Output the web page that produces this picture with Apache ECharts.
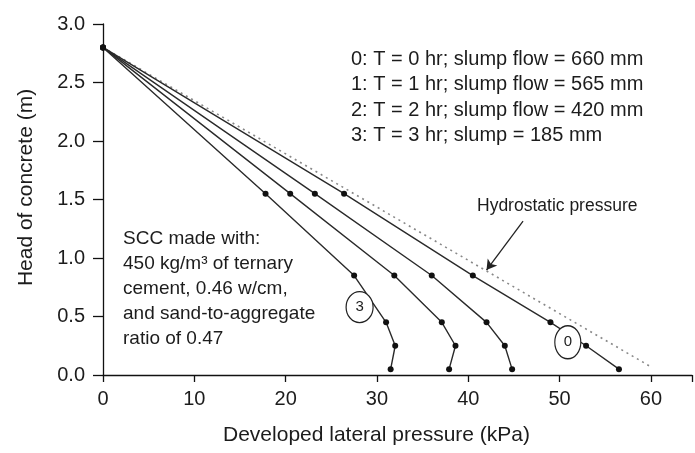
<!DOCTYPE html>
<html>
<head>
<meta charset="utf-8">
<script src="https://cdn.jsdelivr.net/npm/echarts@6/dist/echarts.min.js"></script>
<style>
  html, body { margin: 0; padding: 0; background: #fff; }
  #chart { width: 695px; height: 453px; }
</style>
</head>
<body>
<div id="chart"></div>
<script>
// Developed lateral pressure (kPa) vs. head of concrete (m), one curve per elapsed time
const heads = [2.8, 1.55, 0.85, 0.45, 0.25, 0.05];
const pressure0 = [0, 26.4, 40.5, 49.0, 52.9, 56.5];   // T = 0 hr
const pressure1 = [0, 23.2, 36.0, 42.0, 44.0, 44.8];   // T = 1 hr
const pressure2 = [0, 20.5, 31.9, 37.1, 38.6, 37.9];   // T = 2 hr
const pressure3 = [0, 17.8, 27.5, 31.0, 32.0, 31.5];   // T = 3 hr

// Hydrostatic pressure line (end points)
const hydroPressure = [0, 60];
const hydroHead = [2.8, 0.07];

const legendLines = [
  '0: T = 0 hr; slump flow = 660 mm',
  '1: T = 1 hr; slump flow = 565 mm',
  '2: T = 2 hr; slump flow = 420 mm',
  '3: T = 3 hr; slump = 185 mm'
];
const mixLines = [
  'SCC made with:',
  '450 kg/m³ of ternary',
  'cement, 0.46 w/cm,',
  'and sand-to-aggregate',
  'ratio of 0.47'
];

const FONT = '"Liberation Sans", Arial, Helvetica, sans-serif';
const INK = '#1c1c1c';

function pairs(xs, ys) { return xs.map((x, i) => [x, ys[i]]); }

const ellipse = 'path://M0,50 A50,50 0 1,0 100,50 A50,50 0 1,0 0,50 Z';

function curve(name, xs, tag, tagCoord) {
  const s = {
    name: name,
    type: 'line',
    data: pairs(xs, heads),
    symbol: 'circle',
    symbolSize: 6,
    showSymbol: true,
    itemStyle: { color: '#111' },
    lineStyle: { color: '#2a2a2a', width: 1.4 },
    z: 3,
    animation: false
  };
  if (tag !== undefined) {
    s.markPoint = {
      symbol: ellipse,
      symbolSize: tag === '0' ? [26, 33] : [27, 31],
      itemStyle: { color: '#fff', borderColor: '#222', borderWidth: 1.3 },
      label: { show: true, position: 'inside', formatter: tag, color: INK, fontSize: 15, fontFamily: FONT },
      data: [{ coord: tagCoord }],
      z: 5,
      animation: false
    };
  }
  return s;
}

const chart = echarts.init(document.getElementById('chart'), null, { renderer: 'canvas' });

const graphics = [];
legendLines.forEach((t, i) => {
  graphics.push({
    type: 'text', left: 351, top: 49 + i * 25.5,
    style: { text: t, font: '20px ' + FONT, fill: INK }
  });
});
mixLines.forEach((t, i) => {
  graphics.push({
    type: 'text', left: 123, top: 229 + i * 25,
    style: { text: t, font: '19px ' + FONT, fill: INK }
  });
});
graphics.push({
  type: 'text', left: 477, top: 197,
  style: { text: 'Hydrostatic pressure', font: '17.5px ' + FONT, fill: INK }
});

chart.setOption({
  backgroundColor: '#fff',
  animation: false,
  grid: { left: 103, right: -5, top: 24, bottom: 78, containLabel: false },
  xAxis: {
    type: 'value',
    min: 0, max: 64.5, interval: 10,
    name: 'Developed lateral pressure (kPa)',
    nameLocation: 'middle',
    nameGap: 50,
    nameTextStyle: { fontSize: 21, fontFamily: FONT, color: INK, padding: [0, 42, 0, 0] },
    axisLine: { show: true, lineStyle: { color: '#111', width: 1.3 } },
    axisTick: { show: true, length: 7, lineStyle: { color: '#111', width: 1.3 } },
    axisLabel: {
      margin: 14, fontSize: 20, fontFamily: FONT, color: INK,
      formatter: v => (v % 10 === 0 ? String(v) : '')
    },
    splitLine: { show: false }
  },
  yAxis: {
    type: 'value',
    min: 0, max: 3, interval: 0.5,
    name: 'Head of concrete (m)',
    nameLocation: 'middle',
    nameGap: 66,
    nameTextStyle: { fontSize: 21, fontFamily: FONT, color: INK, padding: [0, 0, 0, 24] },
    axisLine: { show: true, lineStyle: { color: '#111', width: 1.3 } },
    axisTick: { show: true, length: 10, lineStyle: { color: '#111', width: 1.3 } },
    axisLabel: {
      margin: 18, fontSize: 20, fontFamily: FONT, color: INK,
      formatter: v => v.toFixed(1)
    },
    splitLine: { show: false }
  },
  series: [
    {
      name: 'Hydrostatic pressure',
      type: 'line',
      data: pairs(hydroPressure, hydroHead),
      showSymbol: false,
      symbol: 'none',
      lineStyle: { color: '#888', width: 1.6, type: [2, 4] },
      z: 2,
      markLine: {
        silent: true,
        symbol: ['none', 'arrow'],
        symbolSize: [9, 10],
        lineStyle: { color: '#222', width: 1.3, type: 'solid' },
        label: { show: false },
        data: [[{ coord: [46.0, 1.316] }, { coord: [42.0, 0.897] }]],
        animation: false
      },
      animation: false
    },
    curve('T = 0 hr', pressure0, '0', [50.9, 0.28]),
    curve('T = 1 hr', pressure1),
    curve('T = 2 hr', pressure2),
    curve('T = 3 hr', pressure3, '3', [28.1, 0.58])
  ],
  graphic: graphics
});
</script>
</body>
</html>
